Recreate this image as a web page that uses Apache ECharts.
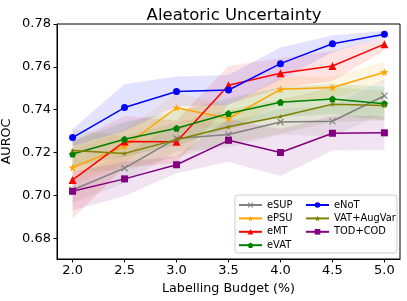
<!DOCTYPE html>
<html>
<head>
<meta charset="utf-8">
<script src="https://cdn.jsdelivr.net/npm/echarts@6/dist/echarts.min.js"></script>
<style>html,body{margin:0;padding:0;background:#fff}#c{width:407px;height:301px}</style>
</head>
<body>
<div id="c"></div>
<script>
var budgets = [2.0, 2.5, 3.0, 3.5, 4.0, 4.5, 5.0];
var xTicks = [2.0, 2.5, 3.0, 3.5, 4.0, 4.5, 5.0];
var yTicks = [0.68, 0.70, 0.72, 0.74, 0.76, 0.78];

var eSUP = [0.7025, 0.7127, 0.7266, 0.7284, 0.7343, 0.7346, 0.7465];
var ePSU = [0.7130, 0.7229, 0.7409, 0.7359, 0.7495, 0.7504, 0.7575];
var eMT = [0.7072, 0.7251, 0.7250, 0.7514, 0.7570, 0.7604, 0.7706];
var eVAT = [0.7193, 0.7262, 0.7313, 0.7382, 0.7435, 0.7450, 0.7428];
var eNoT = [0.7270, 0.7410, 0.7485, 0.7492, 0.7615, 0.7708, 0.7752];
var vatAugVar = [0.7210, 0.7196, 0.7260, 0.7320, 0.7368, 0.7425, 0.7420];
var todCod = [0.7019, 0.7077, 0.7143, 0.7257, 0.7200, 0.7290, 0.7292];

var eSUPStd = [0.006, 0.007, 0.006, 0.006, 0.006, 0.007, 0.008];
var ePSUStd = [0.008, 0.008, 0.007, 0.006, 0.006, 0.005, 0.005];
var eMTStd = [0.018, 0.012, 0.010, 0.009, 0.007, 0.007, 0.003];
var eVATStd = [0.006, 0.008, 0.008, 0.007, 0.007, 0.007, 0.008];
var eNoTStd = [0.004, 0.011, 0.007, 0.007, 0.0075, 0.004, 0.0015];
var vatAugVarStd = [0.010, 0.008, 0.008, 0.008, 0.008, 0.008, 0.007];
var todCodStd = [0.009, 0.008, 0.004, 0.010, 0.011, 0.008, 0.008];

var names = ['eSUP', 'ePSU', 'eMT', 'eVAT', 'eNoT', 'VAT+AugVar', 'TOD+COD'];
var means = [eSUP, ePSU, eMT, eVAT, eNoT, vatAugVar, todCod];
var stds = [eSUPStd, ePSUStd, eMTStd, eVATStd, eNoTStd, vatAugVarStd, todCodStd];
var colors = ['#808080', '#FFA500', '#FF0000', '#008000', '#0000FF', '#808000', '#800080'];

var X_PATH = 'path://M0,1.2L1.2,0L5,3.8L8.8,0L10,1.2L6.2,5L10,8.8L8.8,10L5,6.2L1.2,10L0,8.8L3.8,5Z';
var STAR_PATH = 'path://M5,0L6.2,3.5L10,3.6L7,6L8.1,9.6L5,7.5L1.9,9.6L3,6L0,3.6L3.8,3.5Z';
var PENT_PATH = 'path://M5,0L10,3.8L8.1,10L1.9,10L0,3.8Z';
var symbols = [X_PATH, STAR_PATH, 'triangle', PENT_PATH, 'circle', STAR_PATH, 'rect'];
var sizes = [7, 8, 8, 7, 7, 5, 7];

function bandSeries(i) {
  var data = budgets.map(function (b, k) {
    return [b, means[i][k] - stds[i][k], means[i][k] + stds[i][k]];
  });
  return {
    type: 'custom', name: 'band' + i, data: data, silent: true, z: 1,
    encode: { x: 0, y: [1, 2] },
    renderItem: function (params, api) {
      if (params.dataIndex !== 0) return null;
      var up = [], lo = [];
      for (var k = 0; k < data.length; k++) {
        up.push(api.coord([data[k][0], data[k][2]]));
        lo.unshift(api.coord([data[k][0], data[k][1]]));
      }
      return {
        type: 'polygon',
        shape: { points: up.concat(lo) },
        style: { fill: colors[i], opacity: 0.11 }
      };
    }
  };
}

var series = [];
for (var i = 0; i < names.length; i++) series.push(bandSeries(i));
for (var j = 0; j < names.length; j++) {
  series.push({
    type: 'line', name: names[j],
    data: budgets.map(function (b, k) { return [b, means[j][k]]; }),
    symbol: symbols[j], symbolSize: sizes[j], showSymbol: true,
    lineStyle: { color: colors[j], width: 1.5 },
    itemStyle: { color: colors[j] }, z: 3
  });
}

var chart = echarts.init(document.getElementById('c'), null, { renderer: 'canvas' });
var font = 'DejaVu Sans';
var legendText = { fontFamily: font, fontSize: 9.9, color: '#000', lineHeight: 12 };
chart.setOption({
  animation: false,
  backgroundColor: '#ffffff',
  title: {
    text: 'Aleatoric Uncertainty', left: 229, top: 2, textAlign: 'center',
    textStyle: { fontFamily: font, fontSize: 16.5, fontWeight: 'normal', color: '#000' }
  },
  grid: { left: 57, right: 7, top: 24, bottom: 42, show: true, borderColor: '#000', borderWidth: 1,
    backgroundColor: 'transparent', outerBoundsMode: 'none', containLabel: false },
  graphic: [{
    type: 'rect', shape: { x: 235, y: 195, width: 162, height: 58, r: 3 },
    style: { fill: 'rgba(255,255,255,0.8)', stroke: '#cccccc', lineWidth: 1 }, z: 100
  }],
  legend: [{
    data: names.slice(0, 4), orient: 'vertical', left: 238, top: 199, padding: 0,
    itemWidth: 23, itemHeight: 7, itemGap: 1.4, z: 101, textStyle: legendText
  }, {
    data: names.slice(4), orient: 'vertical', left: 305, top: 199, padding: 0,
    itemWidth: 23, itemHeight: 7, itemGap: 1.4, z: 101, textStyle: legendText
  }],
  xAxis: {
    type: 'value', min: 1.85, max: 5.15,
    name: 'Labelling Budget (%)', nameLocation: 'middle', nameGap: 23,
    nameTextStyle: { fontFamily: font, fontSize: 12.7, color: '#000' },
    axisLine: { show: true, lineStyle: { color: '#000', width: 1 } },
    axisTick: { show: true, length: 3.5, customValues: xTicks, lineStyle: { color: '#000' } },
    axisLabel: { customValues: xTicks, margin: 5, fontFamily: font, fontSize: 13, color: '#000',
      formatter: function (v) { return v.toFixed(1); } },
    splitLine: { show: false }
  },
  yAxis: {
    type: 'value', min: 0.6703, max: 0.78,
    name: 'AUROC', nameLocation: 'middle', nameGap: 44, nameMoveOverlap: false,
    nameTextStyle: { fontFamily: font, fontSize: 12.7, color: '#000' },
    axisLine: { show: true, lineStyle: { color: '#000', width: 1 } },
    axisTick: { show: true, length: 3.5, customValues: yTicks, lineStyle: { color: '#000' } },
    axisLabel: { customValues: yTicks, margin: 6, fontFamily: font, fontSize: 13, color: '#000',
      formatter: function (v) { return v.toFixed(2); } },
    splitLine: { show: false }
  },
  series: series
});
</script>
</body>
</html>
